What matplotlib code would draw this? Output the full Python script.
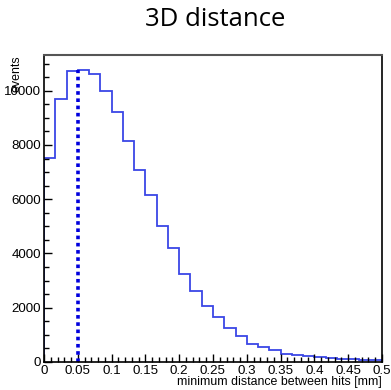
import matplotlib.pyplot as plt
from matplotlib.ticker import MultipleLocator
import numpy as np

# histogram contents, 30 bins between 0 and 0.5 mm
counts = [7520, 9680, 10720, 10780, 10600, 9975, 9230, 8160, 7080, 6150,
          5000, 4200, 3250, 2630, 2070, 1640, 1235, 965, 660, 550,
          425, 305, 255, 205, 170, 145, 120, 100, 80, 60]
x_range = (0.0, 0.5)
cut_value = 0.05

title = '3D distance'
xlabel = 'minimum distance between hits [mm]'
ylabel = 'events'

edges = np.linspace(x_range[0], x_range[1], len(counts) + 1)

fig = plt.figure(figsize=(3.91, 3.90), dpi=100)
ax = fig.add_axes([0.1125, 0.072, 0.8645, 0.787])

ax.stairs(counts, edges, color='#3a46e6', linewidth=1.3, baseline=0)
ax.plot([cut_value, cut_value], [0, max(counts)], color='#0000dd',
        linewidth=2.6, linestyle=(0, (1, 1)))

ax.set_xlim(*x_range)
ax.set_ylim(0, max(counts) * 1.05)

ax.xaxis.set_major_locator(MultipleLocator(0.05))
ax.xaxis.set_minor_locator(MultipleLocator(0.01))
ax.yaxis.set_major_locator(MultipleLocator(2000))
ax.yaxis.set_minor_locator(MultipleLocator(500))
ax.set_xticks(np.arange(0, 0.51, 0.05))
ax.set_xticklabels(['0', '0.05', '0.1', '0.15', '0.2', '0.25', '0.3',
                    '0.35', '0.4', '0.45', '0.5'])
ax.tick_params(which='both', direction='in', labelsize=9.6, pad=2,
               top=False, right=False)
ax.tick_params(which='major', length=6, width=1)
ax.tick_params(which='minor', length=3.5, width=1)
for lab in ax.get_xticklabels() + ax.get_yticklabels():
    lab.set_family('Liberation Sans')

for s in ['left', 'bottom', 'right']:
    ax.spines[s].set_linewidth(1.2)
    ax.spines[s].set_color('black')
ax.spines['top'].set_color('#555555')
ax.spines['top'].set_linewidth(1.5)

fig.text(0.977, 0.005, xlabel, ha='right', va='bottom', fontsize=8.9,
         family='Liberation Sans')
fig.text(0.028, 0.859, ylabel, ha='left', va='top', rotation=90, fontsize=8.9,
         family='Liberation Sans')
fig.text(0.55, 0.951, title, ha='center', va='center', fontsize=18.5,
         family='Open Sans')

fig.savefig('out.png', dpi=100)
